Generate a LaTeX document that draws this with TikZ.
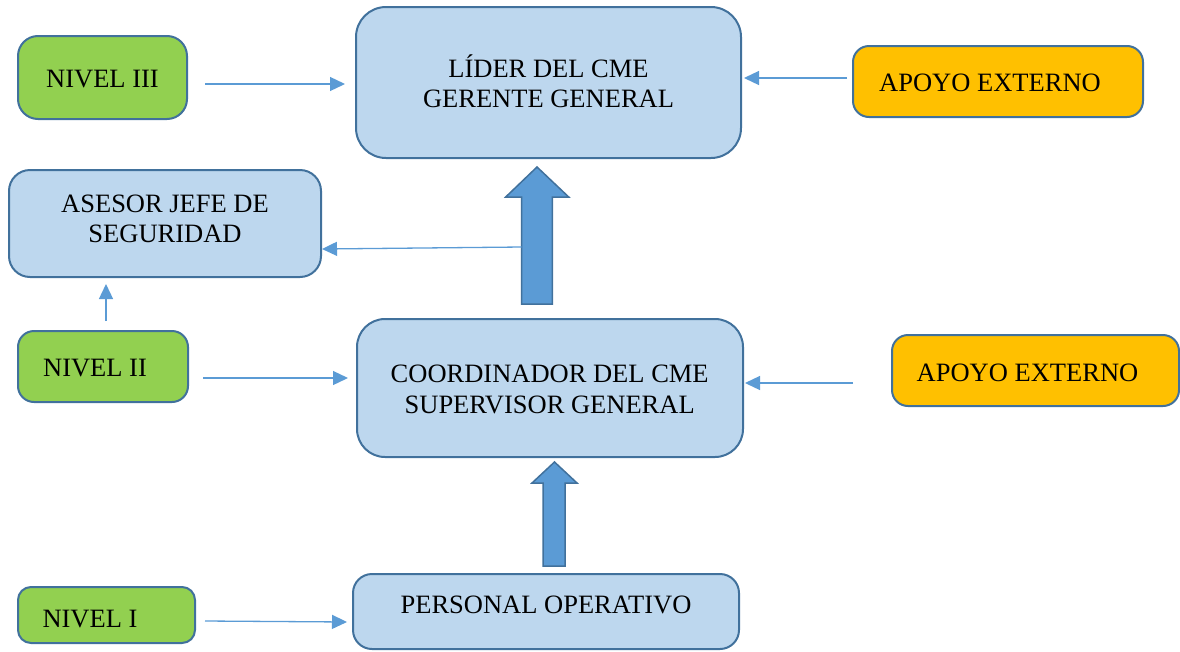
\documentclass[tikz,border=0pt]{standalone}
\usepackage{fontspec}
\setmainfont{Liberation Serif}
\usetikzlibrary{arrows.meta,calc}
\definecolor{boxline}{HTML}{41719C}
\definecolor{bluefill}{HTML}{BDD7EE}
\definecolor{greenfill}{HTML}{92D050}
\definecolor{orangefill}{HTML}{FFC000}
\definecolor{arrowblue}{HTML}{5B9BD5}
\tikzset{
  box/.style={draw=boxline, line width=2pt, rectangle, inner sep=0pt},
  bluebox/.style={box, fill=bluefill},
  greenbox/.style={box, fill=greenfill},
  orangebox/.style={box, fill=orangefill},
  txt/.style={anchor=base, inner sep=0pt, font=\fontsize{26.5}{30}\selectfont},
  conn/.style={draw=arrowblue, line width=1.3pt, -{Triangle[length=15pt,width=14pt]}},
  bigarrow/.style={fill=arrowblue, draw=boxline, line width=1.5pt, line join=miter}
}
\begin{document}
\begin{tikzpicture}[x=1pt,y=-1pt]
\useasboundingbox (0,0) rectangle (1180,651);

% boxes
\node[greenbox, rounded corners=20pt, minimum width=169pt, minimum height=83pt] (n3) at (102.5,77.5) {};
\node[bluebox, rounded corners=30pt, minimum width=385pt, minimum height=151pt] (lider) at (548.5,82.5) {};
\node[orangebox, rounded corners=16pt, minimum width=290pt, minimum height=71pt] (apoyo1) at (998,81.5) {};
\node[bluebox, rounded corners=21pt, minimum width=312pt, minimum height=107pt] (asesor) at (165,223.5) {};
\node[greenbox, rounded corners=16pt, minimum width=170pt, minimum height=71pt] (n2) at (103,366.5) {};
\node[bluebox, rounded corners=28pt, minimum width=386pt, minimum height=138pt] (coord) at (550,388) {};
\node[orangebox, rounded corners=16pt, minimum width=287pt, minimum height=71pt] (apoyo2) at (1035.5,370.5) {};
\node[greenbox, rounded corners=13pt, minimum width=177pt, minimum height=56pt] (n1) at (106.5,615) {};
\node[bluebox, rounded corners=19pt, minimum width=386pt, minimum height=75pt] (pers) at (546,611.5) {};

% texts
\node[txt] (t-n3) at (102.5,87.5) {NIVEL III};
\node[txt] (t-lider1) at (548.5,77) {LÍDER DEL CME};
\node[txt] (t-lider2) at (548.5,107) {GERENTE GENERAL};
\node[txt] (t-apoyo1) at (990,91) {APOYO EXTERNO};
\node[txt] (t-asesor1) at (165,212) {ASESOR JEFE DE};
\node[txt] (t-asesor2) at (165,242) {SEGURIDAD};
\node[txt] (t-n2) at (95,376) {NIVEL II};
\node[txt] (t-coord1) at (549.7,382) {COORDINADOR DEL CME};
\node[txt] (t-coord2) at (549.7,413) {SUPERVISOR GENERAL};
\node[txt] (t-apoyo2) at (1027.5,381) {APOYO EXTERNO};
\node[txt] (t-n1) at (90,627) {NIVEL I};
\node[txt] (t-pers) at (546,613) {PERSONAL OPERATIVO};

% big block arrows
\draw[bigarrow] (521.7,304) -- (521.7,197) -- (505.7,197) -- (537,167) -- (568.7,197) -- (552.3,197) -- (552.3,304) -- cycle;
\draw[bigarrow] (543,566) -- (543,483) -- (532,483) -- (554.5,462) -- (577,483) -- (565,483) -- (565,566) -- cycle;
\coordinate (a1s) at (521.7,247);

% thin connectors
\draw[conn] ($(n3.east)+(17,6.5)$) -- ($(lider.west)+(-10,1.5)$);
\draw[conn] ($(apoyo1.west)+(-5,-3.5)$) -- ($(lider.east)+(2,-4.5)$);
\draw[conn] (a1s) -- ($(asesor.east)+(0,25.5)$);
\draw[conn] ($(n2.north)+(3,-9)$) -- ($(asesor.south)+(-59,6)$);
\draw[conn] ($(n2.east)+(14,11.5)$) -- ($(coord.west)+(-8,-10)$);
\draw[conn] ($(apoyo2.west)+(-38,12.5)$) -- ($(coord.east)+(1,-5)$);
\draw[conn] ($(n1.east)+(9,6)$) -- ($(pers.west)+(-5,10.5)$);
\end{tikzpicture}
\end{document}
